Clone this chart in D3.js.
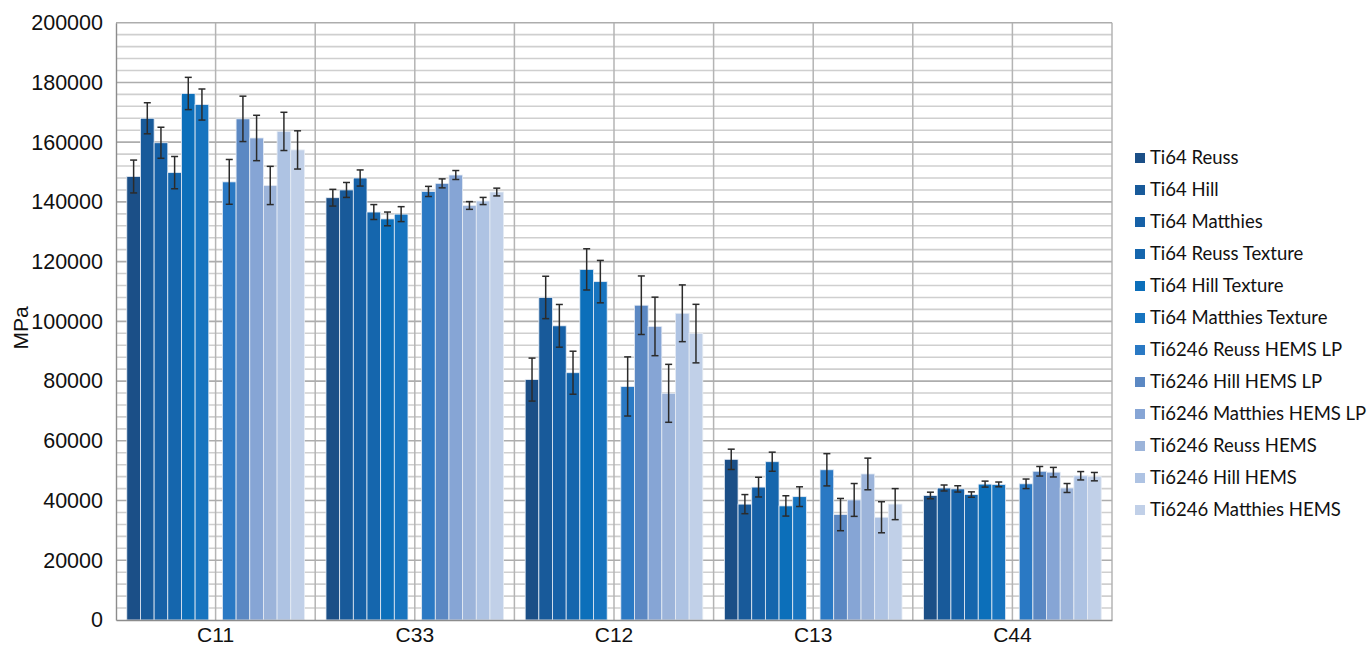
<!DOCTYPE html>
<html>
<head>
<meta charset="utf-8">
<script src="https://cdn.jsdelivr.net/npm/d3@7"></script>
<style>
  html, body { margin: 0; padding: 0; background: #fff; }
  svg { display: block; }
</style>
</head>
<body>
<svg id="chart" width="1368" height="646"></svg>
<script>
const categories = ["C11", "C33", "C12", "C13", "C44"];
const seriesNames = [
  "Ti64 Reuss", "Ti64 Hill", "Ti64 Matthies", "Ti64 Reuss Texture",
  "Ti64 Hill Texture", "Ti64 Matthies Texture", "Ti6246 Reuss HEMS LP",
  "Ti6246 Hill HEMS LP", "Ti6246 Matthies HEMS LP", "Ti6246 Reuss HEMS",
  "Ti6246 Hill HEMS", "Ti6246 Matthies HEMS"
];
const seriesColors = [
  "#1b4f87", "#185a9a", "#1661a7", "#1566ad", "#0c6fba", "#1774bf",
  "#2a79c4", "#5b88c3", "#86a5d5", "#9cb4da", "#aec3e3", "#c1d0e8"
];
// values[series][category]
const values = [
  [148500, 141400,  80500, 53800, 41700],
  [168000, 144000, 108000, 38800, 44200],
  [159800, 148000,  98500, 44500, 43900],
  [149800, 136600,  82800, 53000, 42000],
  [176300, 134300, 117400, 38200, 45500],
  [172600, 135900, 113300, 41300, 45400],
  [146700, 143500,  78200, 50300, 45600],
  [167800, 146200, 105400, 35300, 49800],
  [161400, 149000,  98300, 40200, 49500],
  [145500, 138800,  75900, 48900, 44200],
  [163600, 140300, 102700, 34400, 48300],
  [157400, 143300,  95900, 38800, 48000]
];
const errors = [
  [5500, 2800, 7200, 3400, 1100],
  [5200, 2500, 7100, 3200, 1000],
  [5200, 2700, 7150, 3300, 1050],
  [5400, 2500, 7200, 3200,  900],
  [5400, 2300, 6900, 3400, 1000],
  [5200, 2500, 7100, 3300,  800],
  [7500, 1700, 9900, 5400, 1600],
  [7600, 1500, 9800, 5400, 1600],
  [7600, 1500, 9800, 5500, 1600],
  [6400, 1300, 9700, 5300, 1500],
  [6400, 1200, 9500, 5200, 1400],
  [6400, 1300, 9800, 5200, 1400]
];
const yTicks = [0, 20000, 40000, 60000, 80000, 100000, 120000, 140000, 160000, 180000, 200000];

(function () {
const svg = d3.select("#chart");
const pLeft = 116, pRight = 1112, pTop = 22.7, pBottom = 620;

const x0 = d3.scaleBand().domain(categories).range([pLeft, pRight]).paddingInner(0).paddingOuter(0);
// 13 slots: 6 Ti64, empty slot, 6 Ti6246
const slotIndex = seriesNames.map((s, i) => i < 6 ? i : i + 1);
const x1 = d3.scaleBand().domain(d3.range(13)).range([0, x0.bandwidth()]).paddingInner(0).paddingOuter(0.79);
const y = d3.scaleLinear().domain([0, 200000]).range([pBottom, pTop]);

// minor horizontal gridlines
const minor = d3.range(0, 200001, 4000).filter(v => v % 20000 !== 0);
svg.append("g").selectAll("line").data(minor).join("line")
  .attr("x1", pLeft).attr("x2", pRight)
  .attr("y1", d => y(d)).attr("y2", d => y(d))
  .attr("stroke", "#cfcfcf").attr("stroke-width", 1.6);

// vertical gridlines (every half category)
const vlines = [];
categories.forEach(c => { vlines.push(x0(c) + x0.bandwidth() / 2); vlines.push(x0(c) + x0.bandwidth()); });
svg.append("g").selectAll("line").data(vlines).join("line")
  .attr("x1", d => d).attr("x2", d => d)
  .attr("y1", pTop).attr("y2", pBottom)
  .attr("stroke", "#b4b4b4").attr("stroke-width", 1.5);

// major horizontal gridlines
svg.append("g").selectAll("line").data(yTicks.filter(v => v > 0)).join("line")
  .attr("x1", pLeft).attr("x2", pRight)
  .attr("y1", d => y(d)).attr("y2", d => y(d))
  .attr("stroke", "#adadad").attr("stroke-width", 1.6);

// bars
const barData = [];
seriesNames.forEach((s, si) => categories.forEach((c, ci) => {
  barData.push({ s: si, c, v: values[si][ci], e: errors[si][ci] });
}));
const gBars = svg.append("g");
gBars.selectAll("rect").data(barData).join("rect")
  .attr("x", d => x0(d.c) + x1(slotIndex[d.s]))
  .attr("width", x1.bandwidth())
  .attr("y", d => y(d.v))
  .attr("height", d => y(0) - y(d.v))
  .attr("fill", d => seriesColors[d.s])
  .attr("stroke", "#e6ecf4").attr("stroke-width", 0.8);

// error bars
const gErr = svg.append("g").attr("stroke", "#2b2b2b").attr("stroke-width", 1.5);
barData.forEach(d => {
  const cx = x0(d.c) + x1(slotIndex[d.s]) + x1.bandwidth() / 2;
  const y1 = y(d.v + d.e), y2 = y(d.v - d.e);
  gErr.append("line").attr("x1", cx).attr("x2", cx).attr("y1", y1).attr("y2", y2);
  gErr.append("line").attr("x1", cx - 3.5).attr("x2", cx + 3.5).attr("y1", y1).attr("y2", y1);
  gErr.append("line").attr("x1", cx - 3.5).attr("x2", cx + 3.5).attr("y1", y2).attr("y2", y2);
});

// axes
const yAxis = d3.axisLeft(y).tickValues(yTicks).tickSize(0).tickPadding(13).tickFormat(d3.format("d"));
const gy = svg.append("g").attr("transform", `translate(${pLeft},0)`).call(yAxis);
gy.select(".domain").attr("stroke", "#8c8c8c").attr("stroke-width", 1.4);
gy.selectAll("text").attr("font-family", "Liberation Sans, Arial, sans-serif").attr("font-size", 21.5).attr("fill", "#111");

const xAxis = d3.axisBottom(x0).tickSize(0).tickPadding(7);
const gx = svg.append("g").attr("transform", `translate(0,${pBottom})`).call(xAxis);
gx.select(".domain").attr("stroke", "#8c8c8c").attr("stroke-width", 1.4);
gx.selectAll("text").attr("font-family", "Liberation Sans, Arial, sans-serif").attr("font-size", 21).attr("fill", "#111");

// y-axis title
svg.append("text").attr("transform", "translate(28,328) rotate(-90)")
  .attr("text-anchor", "middle").attr("font-family", "Liberation Sans, Arial, sans-serif")
  .attr("font-size", 21).attr("fill", "#111").text("MPa");

// legend
const lg = svg.append("g").attr("transform", "translate(1135,158)");
const items = lg.selectAll("g").data(seriesNames).join("g")
  .attr("transform", (d, i) => `translate(0,${i * 32})`);
items.append("rect").attr("x", 0).attr("y", -5).attr("width", 10).attr("height", 10)
  .attr("fill", (d, i) => seriesColors[i]);
items.append("text").attr("x", 15).attr("y", 0).attr("dy", "0.35em")
  .attr("font-family", "Lato, Open Sans, sans-serif").attr("font-size", 18.5).attr("fill", "#111")
  .text(d => d);
})();
</script>
</body>
</html>
